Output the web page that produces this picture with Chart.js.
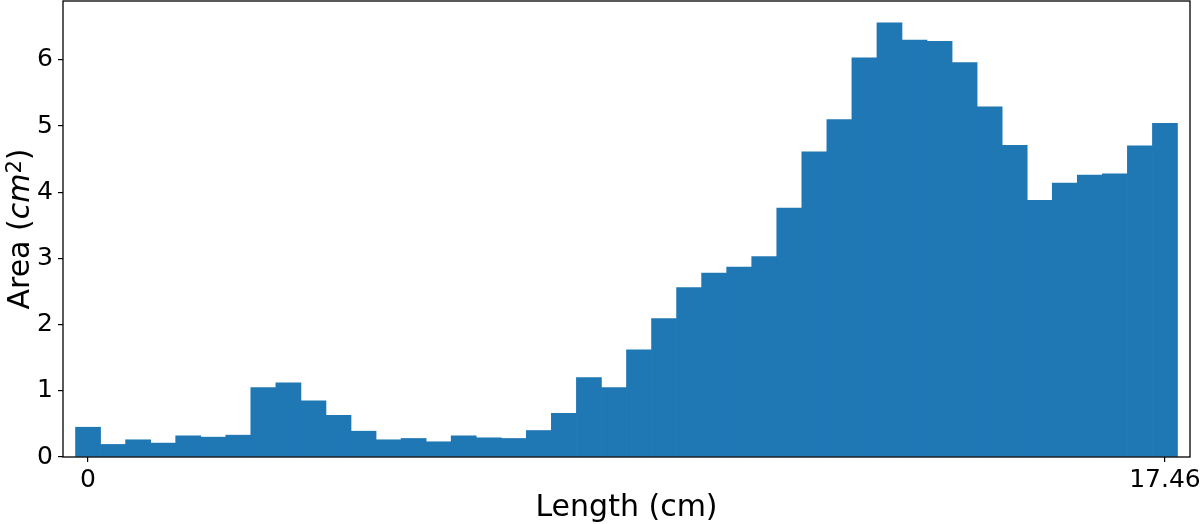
<!DOCTYPE html>
<html>
<head>
<meta charset="utf-8">
<script src="https://cdn.jsdelivr.net/npm/chart.js@4"></script>
<style>
body{margin:0;background:#fff;}
#wrap{width:1200px;height:524px;}
</style>
</head>
<body>
<div id="wrap"><canvas id="area-chart"></canvas></div>
<script>
//Cross-section area per slice along the length
const areas = [
    0.45, 0.19, 0.26, 0.21, 0.32, 0.30, 0.33, 1.05, 1.12, 0.85, 0.63,
    0.39, 0.26, 0.28, 0.23, 0.32, 0.29, 0.28, 0.40, 0.66, 1.20, 1.05,
    1.62, 2.09, 2.56, 2.78, 2.87, 3.03, 3.76, 4.61, 5.10, 6.03, 6.56,
    6.30, 6.28, 5.96, 5.29, 4.71, 3.88, 4.14, 4.26, 4.28, 4.70, 5.04
];
const xTickValues = [0, 17.46];
const xTickLabels = ["0", "17.46"];
const yTickValues = [0, 1, 2, 3, 4, 5, 6];
const yMax = 6.89;
const xTitle = "Length (cm)";

//slices are spread evenly from the first to the last tick
const totalLength = xTickValues[1];
const binWidth = totalLength / (areas.length - 1);
const points = areas.map((a, i) => ({x: i * binWidth, y: a}));

const tickFont = {family: "'DejaVu Sans'", size: 25};

//Frame round the plot and both axis titles
const frameAndTitles = {
    id: "frameAndTitles",
    afterDraw: (chart) => {
        const ctx = chart.ctx;
        const area = chart.chartArea;
        ctx.save();
        ctx.strokeStyle = "#000";
        ctx.lineWidth = 1.3;
        ctx.strokeRect(area.left, area.top, area.right - area.left, area.bottom - area.top);

        ctx.fillStyle = "#000";
        ctx.textBaseline = "alphabetic";
        ctx.textAlign = "center";
        ctx.font = "30px 'DejaVu Sans'";
        ctx.fillText(xTitle, (area.left + area.right) / 2, area.bottom + 59);

        //y title: Area (cm^2) with italic cm and raised 2
        const parts = [
            {text: "Area (", font: "30px 'DejaVu Sans'", rise: 0},
            {text: "cm", font: "italic 30px 'DejaVu Sans'", rise: 0},
            {text: "2", font: "21px 'DejaVu Sans'", rise: 8},
            {text: ")", font: "30px 'DejaVu Sans'", rise: 0}
        ];
        let total = 0;
        parts.forEach(p => {
            ctx.font = p.font;
            p.w = ctx.measureText(p.text).width;
            total += p.w;
        });
        ctx.translate(29, (area.top + area.bottom) / 2);
        ctx.rotate(-Math.PI / 2);
        ctx.textAlign = "left";
        let pos = -total / 2;
        parts.forEach(p => {
            ctx.font = p.font;
            ctx.fillText(p.text, pos, -p.rise);
            pos += p.w;
        });
        ctx.restore();
    }
};

new Chart("area-chart", {
    type: "bar",
    data: {
        datasets: [{
            data: points,
            backgroundColor: "#1f77b4",
            borderWidth: 0,
            barPercentage: 1,
            categoryPercentage: 1
        }]
    },
    options: {
        responsive: true,
        maintainAspectRatio: false,
        animation: false,
        layout: {padding: {top: 1, right: 10, left: 0, bottom: 0}},
        plugins: {
            legend: {display: false},
            tooltip: {enabled: false}
        },
        scales: {
            x: {
                type: "linear",
                offset: false,
                min: -binWidth,
                max: totalLength + binWidth,
                afterBuildTicks: (scale) => {
                    scale.ticks = xTickValues.map(v => ({value: v}));
                },
                afterFit: (scale) => {
                    scale.height = 67;
                    scale.paddingLeft = 0;
                    scale.paddingRight = 0;
                },
                ticks: {
                    font: tickFont,
                    color: "#000",
                    padding: 3,
                    maxRotation: 0,
                    autoSkip: false,
                    callback: (value) => xTickLabels[xTickValues.indexOf(value)]
                },
                grid: {offset: false, drawOnChartArea: false, drawTicks: true, tickLength: 5, color: "#000", lineWidth: 1.2},
                border: {display: false}
            },
            y: {
                min: 0,
                max: yMax,
                afterBuildTicks: (scale) => {
                    scale.ticks = yTickValues.map(v => ({value: v}));
                },
                afterFit: (scale) => {
                    scale.width = 63;
                    scale.paddingTop = 0;
                    scale.paddingBottom = 0;
                },
                ticks: {
                    font: tickFont,
                    color: "#000",
                    padding: 5
                },
                grid: {drawOnChartArea: false, drawTicks: true, tickLength: 5, color: "#000", lineWidth: 1.2},
                border: {display: false}
            }
        }
    },
    plugins: [frameAndTitles]
});
</script>
</body>
</html>
